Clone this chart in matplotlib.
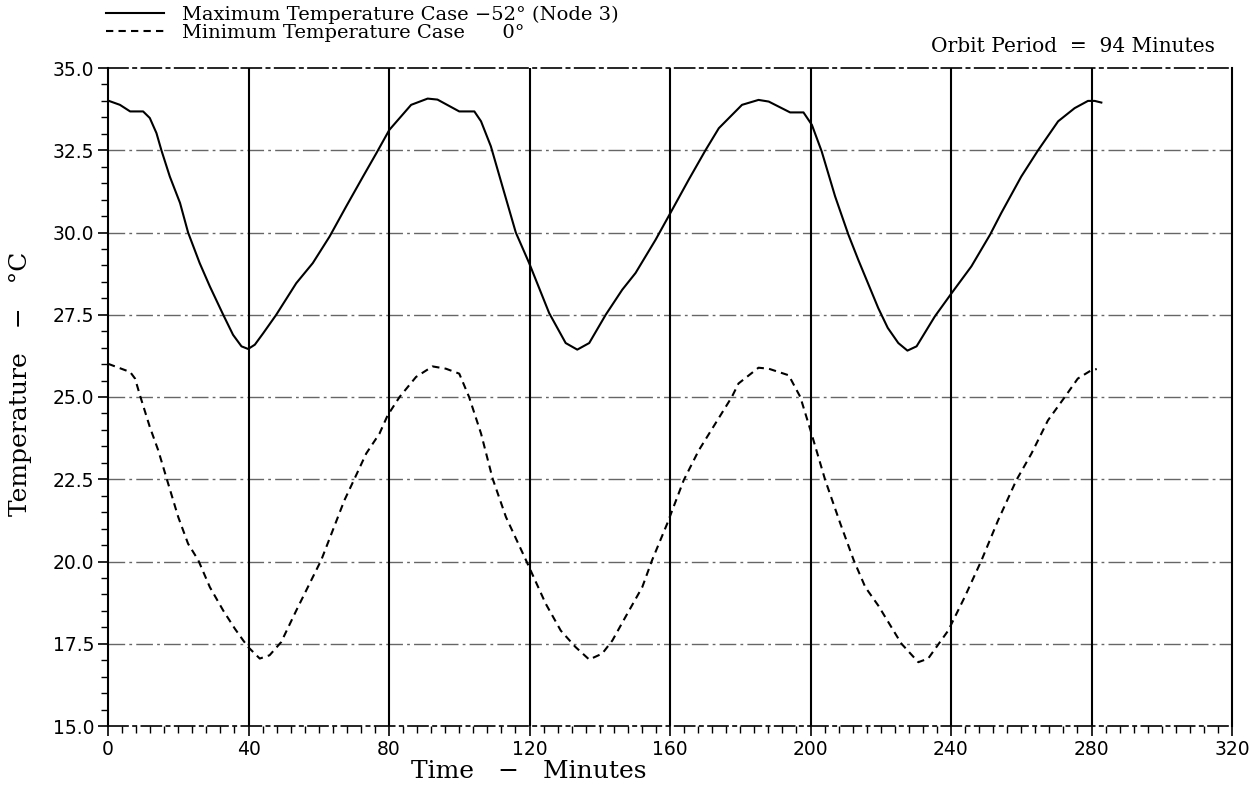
import matplotlib
matplotlib.use("Agg")
import matplotlib.pyplot as plt
from matplotlib.ticker import MultipleLocator, FormatStrFormatter

# ---- data ----
t_max = [0, 3.4, 6.3, 10, 11.9, 13.8, 15.2, 17.6, 20.5, 22.8, 26.1, 29, 32.8, 35.6, 38, 39.9,
         41.8, 44.2, 47.9, 53.6, 58.3, 63.1, 67.8, 72.6, 76.4, 80.1, 86.3, 91, 93.8, 100, 104.3,
         106.2, 109, 112.3, 116.1, 119.9, 125.6, 130.3, 133.6, 137, 141.7, 146.4, 150.2, 155.9,
         160.1, 165.3, 170.1, 173.9, 180.5, 185.2, 188.1, 194.2, 198, 200.4, 203.2, 207, 210.8,
         213.6, 219.3, 222, 225, 227.6, 230.2, 235.4, 240.2, 245.8, 251.1, 254.3, 260, 264.8,
         270.5, 275.2, 279, 280.9, 282.8]
v_max = [34.01, 33.88, 33.68, 33.68, 33.48, 33.02, 32.5, 31.7, 30.9, 30.0, 29.07, 28.36, 27.5,
         26.89, 26.54, 26.46, 26.59, 26.94, 27.5, 28.46, 29.07, 29.88, 30.79, 31.7, 32.41, 33.12,
         33.88, 34.07, 34.04, 33.68, 33.68, 33.38, 32.62, 31.4, 30.0, 29.07, 27.55, 26.64, 26.44,
         26.64, 27.5, 28.26, 28.77, 29.78, 30.59, 31.6, 32.5, 33.17, 33.88, 34.03, 33.98, 33.65,
         33.65, 33.27, 32.46, 31.1, 29.93, 29.17, 27.7, 27.1, 26.64, 26.41, 26.54, 27.45, 28.16,
         28.97, 29.93, 30.59, 31.7, 32.5, 33.38, 33.78, 34.0, 34.0, 33.95]

t_min = [0, 6.3, 7.7, 9.1, 11.9, 14.3, 16.7, 20, 22.8, 25.7, 29, 32.8, 36.1, 38.5, 39.9, 43.2,
         46, 49.3, 53.6, 57.4, 60.7, 64, 67.3, 70.2, 73.5, 77.3, 79.6, 83, 87.7, 92.4, 96.2, 100,
         102.8, 106.2, 109.5, 113.3, 119, 124.6, 128.9, 133.1, 137, 140.7, 143.6, 147.3, 152.1,
         154.9, 159.2, 163.9, 168.2, 172.9, 177.6, 179.5, 185.2, 188.1, 193.8, 197.1, 200, 204.2,
         208.5, 212.3, 215.6, 219.3, 225.9, 230.7, 233.5, 239.2, 243.9, 248.7, 253.4, 258.6,
         262.9, 267.6, 272.4, 276.1, 279.9, 281.5]
v_min = [26.01, 25.76, 25.56, 25.05, 24.09, 23.38, 22.52, 21.35, 20.54, 20.04, 19.22, 18.51,
         17.96, 17.6, 17.4, 17.05, 17.15, 17.55, 18.51, 19.33, 20.04, 20.95, 21.86, 22.52, 23.28,
         23.89, 24.44, 25.0, 25.61, 25.93, 25.86, 25.71, 25.0, 23.89, 22.52, 21.35, 20.04, 18.72,
         17.9, 17.4, 17.02, 17.2, 17.6, 18.31, 19.22, 20.04, 21.15, 22.47, 23.38, 24.19, 25.0,
         25.41, 25.89, 25.86, 25.66, 25.0, 23.99, 22.47, 21.15, 20.04, 19.22, 18.66, 17.5, 16.94,
         17.05, 17.9, 18.92, 20.04, 21.25, 22.47, 23.28, 24.29, 25.0, 25.56, 25.81, 25.85]

labels = ["Maximum Temperature Case \u221252\u00b0 (Node 3)",
          "Minimum Temperature Case      0\u00b0"]
x_label = "Time   \u2212   Minutes"
y_label = "Temperature   \u2212   \u00b0C"
note = "Orbit Period  =  94 Minutes"
x_ticks = list(range(0, 321, 40))
y_ticks = [15.0, 17.5, 20.0, 22.5, 25.0, 27.5, 30.0, 32.5, 35.0]

# ---- figure ----
fig = plt.figure(figsize=(12.6, 7.9), dpi=100)
ax = fig.add_axes([108/1260, 1-726/790, (1232-108)/1260, (726-68)/790])

# grid
for y in y_ticks[1:-1]:
    ax.axhline(y, color="#666666", lw=1.0, ls=(0, (12, 3, 2, 3)), zorder=1)
for x in x_ticks[1:-1]:
    ax.axvline(x, color="black", lw=1.5, zorder=1)

l1, = ax.plot(t_max, v_max, color="black", lw=1.5, zorder=3)
l2, = ax.plot(t_min, v_min, color="black", lw=1.5, ls=(0, (3.5, 2.5)), zorder=3)

ax.set_xlim(0, 320)
ax.set_ylim(15, 35)
ax.set_xticks(x_ticks)
ax.set_yticks(y_ticks)
ax.xaxis.set_minor_locator(MultipleLocator(4))
ax.yaxis.set_minor_locator(MultipleLocator(0.5))
ax.yaxis.set_major_formatter(FormatStrFormatter("%.1f"))
ax.tick_params(which="major", direction="out", length=7, width=1.2,
               labelsize=13.5, pad=3)
ax.tick_params(which="minor", direction="out", length=5, width=1.0)
for lab in ax.get_xticklabels() + ax.get_yticklabels():
    lab.set_fontfamily("DejaVu Sans")

for s in ["top", "bottom"]:
    ax.spines[s].set_linestyle((0, (12, 3, 2, 3)))
    ax.spines[s].set_linewidth(1.2)
for s in ["left", "right"]:
    ax.spines[s].set_linewidth(1.5)

ax.set_xlabel(x_label, fontsize=18, family="DejaVu Serif")
ax.xaxis.set_label_coords(0.374, -0.052)
ax.set_ylabel(y_label, fontsize=18, family="DejaVu Serif")
ax.yaxis.set_label_coords(-0.068, 0.52)

leg = fig.legend([l1, l2], labels, loc="upper left", bbox_to_anchor=(106/1260, 1-6/790),
                 frameon=False, handlelength=3.0, handletextpad=0.9, labelspacing=0.0,
                 borderpad=0.0, borderaxespad=0.0,
                 prop={"family": "DejaVu Serif", "size": 14})
fig.text(1215/1260, 1-46/790, note, ha="right", va="center", fontsize=14.5,
         family="DejaVu Serif")

fig.savefig("out.png", dpi=100)
